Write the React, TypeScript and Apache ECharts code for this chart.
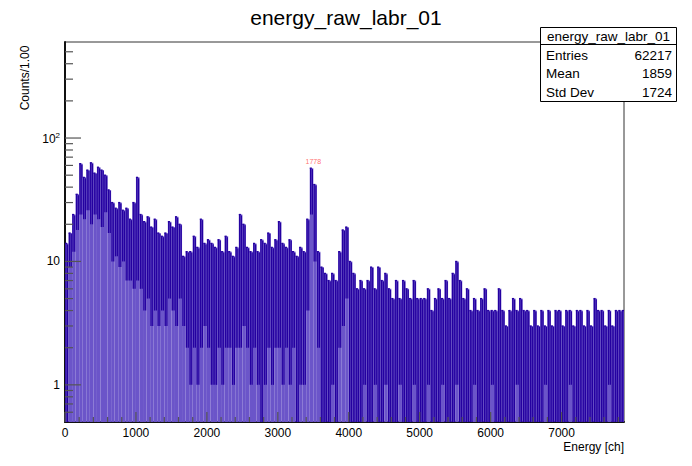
import { useEffect, useRef } from 'react';
import * as echarts from 'echarts';

// histogram is drawn as 50-channel blocks: the highest and the lowest bin content seen in each block
const BLOCK = 50;
const X_MAX = 7880;
const Y_MIN = 0.5;
const Y_MAX = 600;

const blockHigh = [
  14, 17, 24, 35, 62, 48, 55, 63, 52, 58, 55, 50, 38, 30, 27, 30, 26, 27, 22, 30,
  48, 24, 21, 23, 19, 22, 17, 16, 17, 21, 19, 23, 20, 11, 12, 12, 16, 13, 22, 14,
  15, 14, 13, 15, 12, 16, 12, 11, 13, 24, 20, 13, 12, 14, 12, 15, 14, 17, 13, 15,
  21, 14, 13, 15, 12, 11, 13, 12, 22, 57, 42, 12, 9, 8, 7, 8, 7, 12, 18, 19,
  10, 8, 6, 7, 6, 7, 9, 6, 9, 7, 8, 6, 5, 7, 5, 7, 6, 5, 7, 5,
  5, 5, 6, 4, 5, 6, 5, 7, 5, 8, 10, 7, 5, 6, 4, 5, 4, 5, 6, 4,
  4, 4, 6, 4, 3, 4, 5, 4, 5, 4, 4, 3, 4, 3, 4, 3, 4, 3, 4, 4,
  3, 4, 4, 3, 4, 4, 3, 4, 3, 5, 4, 4, 3, 4, 3, 4, 4, 4,
];
const blockLow = [
  0, 9, 12, 18, 24, 22, 26, 20, 24, 22, 19, 25, 17, 10, 11, 9, 10, 7, 7, 6,
  7, 6, 4, 5, 3, 4, 3, 4, 3, 5, 4, 3, 5, 3, 2, 1, 2, 1, 2, 3,
  2, 1, 1, 2, 1, 2, 2, 1, 2, 2, 3, 2, 1, 2, 1, 0, 1, 2, 1, 2,
  2, 1, 2, 1, 2, 0, 1, 1, 4, 24, 10, 2, 0, 0, 0, 1, 0, 2, 3, 5,
  0, 0, 0, 0, 1, 0, 0, 1, 0, 0, 1, 0, 0, 0, 1, 0, 0, 0, 1, 0,
  0, 0, 1, 0, 0, 0, 1, 0, 0, 0, 1, 0, 0, 0, 0, 1, 0, 0, 0, 0,
  1, 0, 0, 0, 0, 0, 0, 1, 0, 0, 0, 0, 0, 0, 0, 1, 0, 0, 0, 0,
  0, 0, 1, 0, 0, 0, 0, 0, 0, 0, 0, 0, 0, 1, 0, 0, 0, 0,
];

const peakChannel = [3500];
const peakCounts = [57];
const peakText = ['1778'];

const statNames = ['Entries', 'Mean', 'Std Dev'];
const statValues = ['62217', '1859', '1724'];

const xMajorTicks = [0, 1000, 2000, 3000, 4000, 5000, 6000, 7000];
const xMinorTicks = [
  200, 400, 600, 800, 1200, 1400, 1600, 1800, 2200, 2400, 2600, 2800,
  3200, 3400, 3600, 3800, 4200, 4400, 4600, 4800, 5200, 5400, 5600, 5800,
  6200, 6400, 6600, 6800, 7200, 7400, 7600, 7800,
];
const yMajorTicks = [1, 10, 100];
const yMinorTicks = [
  0.6, 0.7, 0.8, 0.9, 2, 3, 4, 5, 6, 7, 8, 9, 20, 30, 40, 50, 60, 70, 80, 90,
  200, 300, 400, 500,
];

const FONT = 'Liberation Sans, Arial, Helvetica, sans-serif';
const FILL = '#6b55c9';
const LINE = '#2400a0';

export default function App() {
  const ref = useRef<HTMLDivElement>(null);

  useEffect(() => {
    if (!ref.current) return;
    const chart = echarts.init(ref.current, undefined, { renderer: 'svg' });

    const blocks = blockHigh.map((hi, i) => [i * BLOCK, hi, blockLow[i]]);

    const xTicks = [
      ...xMajorTicks.map((v) => [v, Y_MIN, 1]),
      ...xMinorTicks.map((v) => [v, Y_MIN, 0]),
    ];
    const yTicks = [
      ...yMajorTicks.map((v) => [0, v, 1]),
      ...yMinorTicks.map((v) => [0, v, 0]),
    ];

    const isDecade = (v: number) => {
      const l = Math.log10(v);
      return v >= 1 && Math.abs(l - Math.round(l)) < 1e-6;
    };

    chart.setOption({
      animation: false,
      textStyle: { fontFamily: FONT },
      title: {
        text: 'energy_raw_labr_01',
        left: 'center',
        top: 2,
        textStyle: { fontSize: 21, fontWeight: 'normal', color: '#000', fontFamily: FONT },
      },
      grid: {
        left: 65,
        right: 68,
        top: 42,
        bottom: 44,
        show: true,
        borderColor: '#333',
        borderWidth: 1,
        backgroundColor: '#fff',
      },
      xAxis: {
        type: 'value',
        min: 0,
        max: X_MAX,
        interval: 1000,
        axisLine: { show: true, lineStyle: { color: '#111', width: 2 } },
        axisTick: { show: false },
        splitLine: { show: false },
        axisLabel: {
          color: '#000',
          fontSize: 12,
          margin: 5,
          showMaxLabel: false,
          formatter: (v: number) => (v % 1000 === 0 ? String(v) : ''),
        },
      },
      yAxis: {
        type: 'log',
        logBase: 10,
        min: Y_MIN,
        max: Y_MAX,
        axisLine: { show: true, lineStyle: { color: '#111', width: 2 } },
        axisTick: { show: false },
        splitLine: { show: false },
        minorTick: { show: false },
        axisLabel: {
          color: '#000',
          fontSize: 12,
          margin: 5,
          showMinLabel: false,
          showMaxLabel: false,
          formatter: (v: number) => {
            if (!isDecade(v)) return '';
            const e = Math.round(Math.log10(v));
            if (e < 2) return String(Math.round(v));
            return `{b|10}{s|${e}}`;
          },
          rich: {
            b: { fontSize: 12, color: '#000', verticalAlign: 'bottom' },
            s: { fontSize: 8, color: '#000', verticalAlign: 'top', padding: [0, 0, 6, 0] },
          },
        },
      },
      graphic: [
        {
          type: 'text',
          x: 25,
          y: 78,
          rotation: Math.PI / 2,
          style: {
            text: 'Counts/1.00',
            fontSize: 12,
            fontFamily: FONT,
            fill: '#000',
            align: 'center',
            verticalAlign: 'middle',
          },
        },
        {
          type: 'text',
          x: 624,
          y: 447,
          style: {
            text: 'Energy [ch]',
            fontSize: 12,
            fontFamily: FONT,
            fill: '#000',
            align: 'right',
            verticalAlign: 'middle',
          },
        },
        {
          type: 'group',
          z: 100,
          children: [
            {
              type: 'rect',
              shape: { x: 540.5, y: 27.5, width: 136, height: 74 },
              style: { fill: '#fff', stroke: '#000', lineWidth: 1 },
            },
            {
              type: 'line',
              shape: { x1: 540.5, y1: 44.5, x2: 676.5, y2: 44.5 },
              style: { stroke: '#000', lineWidth: 1 },
            },
            {
              type: 'text',
              x: 608.5,
              y: 36,
              style: {
                text: 'energy_raw_labr_01',
                fontSize: 13.5,
                fontFamily: FONT,
                fill: '#000',
                align: 'center',
                verticalAlign: 'middle',
              },
            },
            ...statNames.flatMap((name, i) => [
              {
                type: 'text',
                x: 546,
                y: 55 + i * 18.5,
                style: {
                  text: name,
                  fontSize: 13.5,
                  fontFamily: FONT,
                  fill: '#000',
                  align: 'left',
                  verticalAlign: 'middle',
                },
              },
              {
                type: 'text',
                x: 672,
                y: 55 + i * 18.5,
                style: {
                  text: statValues[i],
                  fontSize: 13.5,
                  fontFamily: FONT,
                  fill: '#000',
                  align: 'right',
                  verticalAlign: 'middle',
                },
              },
            ]),
          ],
        },
      ],
      series: [
        {
          // each block: light fill up to its highest bin, dark strokes between its lowest and highest bin
          type: 'custom',
          data: blocks,
          encode: { x: 0, y: 1 },
          clip: true,
          silent: true,
          renderItem: (_params: any, api: any) => {
            const x0 = api.value(0);
            const hi = api.value(1);
            const lo = api.value(2);
            const pTop = api.coord([x0, hi]);
            const pEnd = api.coord([x0 + BLOCK, Y_MIN]);
            const bottom = pEnd[1];
            const w = pEnd[0] - pTop[0];
            const loY = lo > 0 ? api.coord([x0, lo])[1] : bottom + 2;
            const stroke = { stroke: LINE, lineWidth: 1.3 };
            return {
              type: 'group',
              children: [
                {
                  type: 'rect',
                  shape: { x: pTop[0], y: pTop[1], width: w, height: bottom - pTop[1] },
                  style: { fill: FILL },
                },
                {
                  type: 'line',
                  shape: { x1: pTop[0] + w * 0.25, y1: pTop[1], x2: pTop[0] + w * 0.25, y2: loY },
                  style: stroke,
                },
                {
                  type: 'line',
                  shape: { x1: pTop[0] + w * 0.75, y1: pTop[1] + 1, x2: pTop[0] + w * 0.75, y2: loY },
                  style: stroke,
                },
                {
                  type: 'line',
                  shape: { x1: pTop[0], y1: pTop[1], x2: pTop[0] + w * 0.6, y2: pTop[1] },
                  style: stroke,
                },
              ],
            };
          },
          z: 2,
        },
        {
          type: 'scatter',
          data: peakChannel.map((c, i) => [c, peakCounts[i], peakText[i]]),
          symbolSize: 0,
          silent: true,
          label: {
            show: true,
            position: 'top',
            distance: 3,
            fontSize: 7,
            color: '#ff4a4a',
            formatter: (p: any) => p.value[2],
          },
          z: 3,
        },
        {
          type: 'custom',
          silent: true,
          clip: false,
          data: xTicks,
          encode: { x: 0, y: 1 },
          renderItem: (_params: any, api: any) => {
            const p = api.coord([api.value(0), api.value(1)]);
            const len = api.value(2) ? 10 : 5;
            return {
              type: 'line',
              shape: { x1: p[0], y1: p[1], x2: p[0], y2: p[1] - len },
              style: { stroke: '#555', lineWidth: 1.2 },
            };
          },
          z: 4,
        },
        {
          type: 'custom',
          silent: true,
          clip: false,
          data: yTicks,
          encode: { x: 0, y: 1 },
          renderItem: (_params: any, api: any) => {
            const p = api.coord([api.value(0), api.value(1)]);
            const len = api.value(2) ? 16 : 8;
            return {
              type: 'line',
              shape: { x1: p[0], y1: p[1], x2: p[0] + len, y2: p[1] },
              style: { stroke: '#555', lineWidth: 1.2 },
            };
          },
          z: 4,
        },
      ],
    });

    return () => {
      chart.dispose();
    };
  }, []);

  return (
    <div
      ref={ref}
      style={{ position: 'absolute', left: 0, top: 0, width: 692, height: 466, background: '#fff' }}
    />
  );
}
